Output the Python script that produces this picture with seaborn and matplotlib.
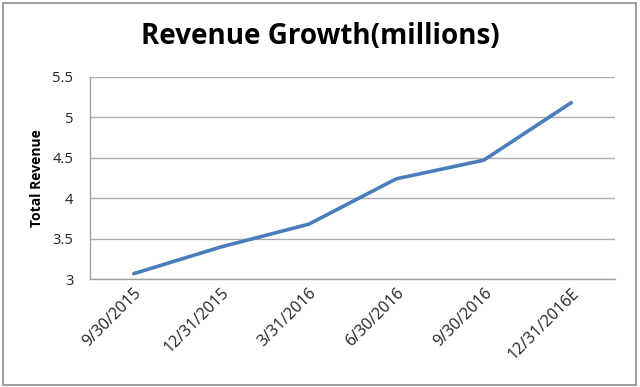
import matplotlib
matplotlib.use("Agg")
import matplotlib.pyplot as plt
import seaborn as sns
import pandas as pd
from matplotlib.patches import Rectangle

# Data
quarters = ['9/30/2015', '12/31/2015', '3/31/2016', '6/30/2016', '9/30/2016', '12/31/2016E']
revenue = [3.07, 3.40, 3.68, 4.24, 4.47, 5.18]

df = pd.DataFrame({'Quarter': quarters, 'Revenue': revenue})

sns.set_style('white')
plt.rcParams['font.family'] = ['Open Sans', 'DejaVu Sans']

fig = plt.figure(figsize=(6.4, 3.87), dpi=100)
ax = fig.add_axes([0.1406, 0.2783, 0.8204, 0.5235])

sns.lineplot(data=df, x='Quarter', y='Revenue', ax=ax, color='#4A7EBB', linewidth=2.6, sort=False)

ax.set_xlim(-0.5, len(quarters) - 0.5)
ax.set_ylim(3, 5.5)
ax.set_yticks([3, 3.5, 4, 4.5, 5, 5.5])
ax.set_yticklabels(['3', '3.5', '4', '4.5', '5', '5.5'])
ax.yaxis.grid(True, color='#ABABAB', linewidth=1)
ax.set_axisbelow(True)

for side in ['top', 'right']:
    ax.spines[side].set_visible(False)
for side in ['left', 'bottom']:
    ax.spines[side].set_color('#A0A0A0')
    ax.spines[side].set_linewidth(1)

ax.tick_params(axis='y', length=0, pad=12, labelsize=10.5, labelcolor='#222222')
ax.tick_params(axis='x', length=0, pad=4, labelsize=11.5, labelcolor='#222222')
plt.setp(ax.get_xticklabels(), rotation=45, ha='right', rotation_mode='anchor')

ax.set_xlabel('')
ax.set_ylabel('Total Revenue', fontsize=10, fontweight='bold', labelpad=6, color='black')

fig.text(0.5, 0.905, 'Revenue Growth(millions)', ha='center', va='center',
         fontsize=20, fontweight='bold', color='black')

# light grey frame round the whole chart
fig.patches.append(Rectangle((0.004, 0.006), 0.99, 0.985, transform=fig.transFigure,
                             fill=False, edgecolor='#8C8C8C', linewidth=1.2))

fig.savefig('out.png', dpi=100)
